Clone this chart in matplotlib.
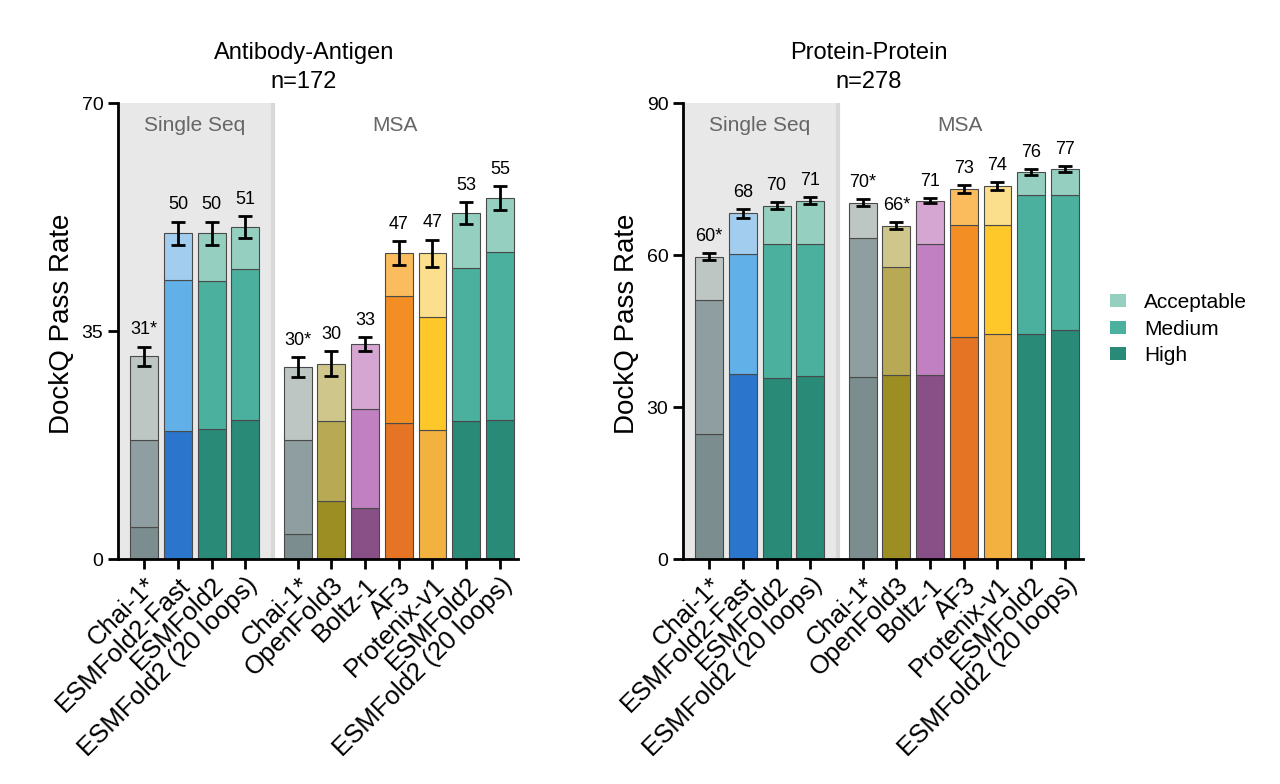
import matplotlib
matplotlib.use("Agg")
import matplotlib.pyplot as plt
from matplotlib.patches import Patch
import numpy as np

plt.rcParams['font.family'] = ['Liberation Sans', 'DejaVu Sans']

# ---------------- data ----------------
models = ["Chai-1*", "ESMFold2-Fast", "ESMFold2", "ESMFold2 (20 loops)",
          "Chai-1*", "OpenFold3", "Boltz-1", "AF3", "Protenix-v1", "ESMFold2", "ESMFold2 (20 loops)"]
families = ["chai", "fast", "esm", "esm", "chai", "of3", "boltz", "af3", "protenix", "esm", "esm"]

# Antibody-Antigen (n=172)
ab_high = [4.9, 19.6, 19.9, 21.4, 3.8, 8.9, 7.8, 20.9, 19.8, 21.2, 21.4]
ab_medium = [13.4, 23.3, 22.7, 23.1, 14.5, 12.3, 15.2, 19.4, 17.4, 23.4, 25.8]
ab_acceptable = [12.8, 7.1, 7.4, 6.4, 11.2, 8.8, 10.0, 6.7, 9.7, 8.5, 8.2]
ab_err = [1.5, 1.8, 1.8, 1.7, 1.5, 1.9, 1.1, 1.8, 2.1, 1.7, 1.8]
ab_labels = ["31*", "50", "50", "51", "30*", "30", "33", "47", "47", "53", "55"]

# Protein-Protein (n=278)
pp_high = [24.6, 36.6, 35.7, 36.1, 35.9, 36.4, 36.4, 43.8, 44.5, 44.5, 45.2]
pp_medium = [26.6, 23.5, 26.4, 26.0, 27.4, 21.2, 25.7, 22.2, 21.5, 27.3, 26.6]
pp_acceptable = [8.5, 8.1, 7.6, 8.6, 7.0, 8.2, 8.6, 7.0, 7.6, 4.6, 5.1]
pp_err = [0.6, 0.8, 0.7, 0.7, 0.7, 0.65, 0.5, 0.8, 0.8, 0.6, 0.6]
pp_labels = ["60*", "68", "70", "71", "70*", "66*", "71", "73", "74", "76", "77"]

colors = {
    "chai": ["#7b8d8e", "#8f9ea0", "#bdc6c2"],
    "fast": ["#2b76cc", "#62b0e8", "#a3cdee"],
    "esm": ["#2a8a78", "#4bb09d", "#95cfc0"],
    "of3": ["#9c8e22", "#b8aa55", "#cfc68c"],
    "boltz": ["#885086", "#c080c2", "#d6a6d2"],
    "af3": ["#e57424", "#f28e24", "#fbbc5e"],
    "protenix": ["#f3b140", "#fec72a", "#fbdf8c"],
}

positions = np.array([0, 1, 2, 3, 4.56, 5.56, 6.56, 7.56, 8.56, 9.56, 10.56])
bar_w = 0.83

fig = plt.figure(figsize=(12.8, 7.84), dpi=100)
ax1 = fig.add_axes([118/1280, 1-559/784, 400/1280, 456/784])
ax2 = fig.add_axes([683/1280, 1-559/784, 400/1280, 456/784])


def draw(ax, high, med, acc, err, labels, ymax, yticks, title, title_x):
    ax.set_xlim(-0.78, 11.1)
    ax.set_ylim(0, ymax)
    ax.axvspan(-0.78, 3.82, color="#e8e8e8", zorder=0, lw=0)
    ax.axvline(3.82, color="#d8d8d8", lw=3, zorder=0.5)
    high = np.array(high); med = np.array(med); acc = np.array(acc)
    for i, x in enumerate(positions):
        c = colors[families[i]]
        ax.bar(x, high[i], bar_w, color=c[0], edgecolor="#4a4a4a", lw=0.8, zorder=2)
        ax.bar(x, med[i], bar_w, bottom=high[i], color=c[1], edgecolor="#4a4a4a", lw=0.8, zorder=2)
        ax.bar(x, acc[i], bar_w, bottom=high[i] + med[i], color=c[2], edgecolor="#4a4a4a", lw=0.8, zorder=2)
    tot = high + med + acc
    ax.errorbar(positions, tot, yerr=err, fmt="none", ecolor="black", elinewidth=2,
                capsize=5, capthick=2, zorder=3)
    for x, t, e, lab in zip(positions, tot, err, labels):
        ax.annotate(lab, (x, t + e), xytext=(0, 6), textcoords="offset points",
                    ha="center", va="bottom", fontsize=13)
    ax.text(1.5, 0.95, "Single Seq", transform=ax.get_xaxis_transform(),
            ha="center", va="center", fontsize=15, color="#666666")
    ax.text(7.45, 0.95, "MSA", transform=ax.get_xaxis_transform(),
            ha="center", va="center", fontsize=15, color="#666666")
    for s in ["top", "right"]:
        ax.spines[s].set_visible(False)
    for s in ["left", "bottom"]:
        ax.spines[s].set_linewidth(2)
    ax.set_yticks(yticks)
    ax.set_xticks(positions)
    ax.set_xticklabels(models, rotation=45, ha="right", rotation_mode="anchor", fontsize=18.5)
    ax.tick_params(axis="both", width=2, length=7, labelsize=14)
    ax.tick_params(axis="x", labelsize=18.5, pad=3)
    ax.set_ylabel("DockQ Pass Rate", fontsize=20)
    ax.yaxis.label.set_va("center")
    ax.yaxis.set_label_coords(-0.14, 0.515)
    fig.text(title_x / 1280, 1 - 93 / 784, title, ha="center", va="bottom",
             fontsize=17, linespacing=1.4)


draw(ax1, ab_high, ab_medium, ab_acceptable, ab_err, ab_labels, 70, [0, 35, 70],
     "Antibody-Antigen\nn=172", 304)
draw(ax2, pp_high, pp_medium, pp_acceptable, pp_err, pp_labels, 90, [0, 30, 60, 90],
     "Protein-Protein\nn=278", 869)

handles = [Patch(facecolor=colors["esm"][2], label="Acceptable"),
           Patch(facecolor=colors["esm"][1], label="Medium"),
           Patch(facecolor=colors["esm"][0], label="High")]
fig.legend(handles=handles, loc="center left", bbox_to_anchor=(1091/1280, 1-329/784),
           frameon=False, fontsize=15, handlelength=0.8, handleheight=0.6,
           handletextpad=0.85, labelspacing=0.35)

fig.savefig("out.png", dpi=100)
